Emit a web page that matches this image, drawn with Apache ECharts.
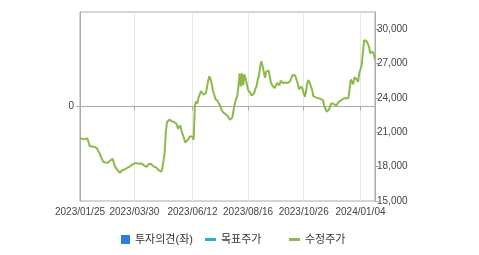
<!DOCTYPE html>
<html>
<head>
<meta charset="utf-8">
<script src="https://cdn.jsdelivr.net/npm/echarts@6/dist/echarts.min.js"></script>
<style>
html,body{margin:0;padding:0;background:#fff;}
#c{width:479px;height:255px;}
</style>
</head>
<body>
<div id="c"></div>
<script>
// Trading-day categories: weekdays from the start date, skipping KRX holidays
const startDate = '2023-01-25';
const holidays = ['2023-03-01','2023-05-01','2023-05-05','2023-05-29','2023-06-06','2023-08-15',
  '2023-09-28','2023-09-29','2023-10-02','2023-10-03','2023-10-09','2023-12-25','2023-12-29','2024-01-01'];
const tickLabels = ['2023/01/25','2023/03/30','2023/06/12','2023/08/16','2023/10/26','2024/01/04'];
const rightTicks = [15000,18000,21000,24000,27000,30000];
const seriesNames = ['투자의견(좌)','목표주가','수정주가'];
const opinion = [];
const targetPrice = [];
const adjPrice = [
  20500,20480,20420,20350,20400,20520,20480,20150,19800,19700,
  19750,19680,19720,19700,19600,19400,19200,18950,18700,18450,
  18300,18350,18300,18330,18450,18550,18650,18680,18300,18000,
  17900,17700,17550,17450,17600,17700,17800,17750,17850,17900,
  17950,18000,18100,18150,18250,18300,18250,18300,18280,18250,
  18300,18280,18200,18100,18000,17980,18100,18250,18350,18200,
  18100,18000,17950,17930,17850,17700,17600,17550,17750,17850,
  19200,21000,21900,22050,22100,22000,21950,21850,21900,21800,
  21700,21300,21250,21600,21100,20800,20500,20100,19950,20300,
  20450,20650,20780,20600,20350,23300,23700,23500,24000,24300,
  24600,24700,24300,24200,24400,24900,25500,25900,25600,25200,
  24600,24300,23900,23800,23700,23550,23300,23000,22800,22700,
  22600,22500,22450,22300,22100,21950,22300,22900,23500,23900,
  24100,25000,26150,25000,26150,25100,26050,25700,25200,24700,
  24600,24400,24200,24100,24400,24800,25000,25600,25900,26700,
  27200,26800,26700,25750,26300,26350,26400,26450,25300,25100,
  24950,24850,25000,25300,25400,25100,25500,25570,25300,25130,
  25350,25200,25300,25250,25500,25800,26000,26050,25950,26000,
  25300,24750,24900,25000,24800,24400,24100,24600,25300,25550,
  25300,25130,24700,24150,24100,24050,24000,23980,23950,23900,
  23850,23800,23300,23100,22800,22650,23000,23300,23550,23500,
  23450,23400,23350,23500,23650,23700,23800,23850,23950,23950,
  23980,24000,23980,24800,25600,25700,25200,25800,25900,25600,
  25400,26150,26500,26900,27000,29050,28900,28950,28750,28500,
  27900,27750,28050,27800,27350
];

const categories = [];
(function(){
  const p = startDate.split('-').map(Number);
  let t = Date.UTC(p[0], p[1]-1, p[2]);
  while (categories.length < adjPrice.length) {
    const d = new Date(t);
    const dow = d.getUTCDay();
    const y = d.getUTCFullYear(), m = String(d.getUTCMonth()+1).padStart(2,'0'), dd = String(d.getUTCDate()).padStart(2,'0');
    if (dow !== 0 && dow !== 6 && holidays.indexOf(y+'-'+m+'-'+dd) < 0) categories.push(y+'/'+m+'/'+dd);
    t += 86400000;
  }
})();

const FONT = 'Liberation Sans, Noto Sans CJK KR, sans-serif';
const isTick = (idx, val) => tickLabels.indexOf(val) >= 0;
const chart = echarts.init(document.getElementById('c'), null, {renderer:'canvas'});
chart.setOption({
  animation: false,
  backgroundColor: '#fff',
  grid: {left: 80, right: 104, top: 12, bottom: 54, show: true, borderColor: '#aaaaaa', borderWidth: 1, backgroundColor: 'transparent'},
  legend: [
    {data:[seriesNames[0]], left: 116, top: 229, icon:'rect', itemWidth: 9, itemHeight: 9, selectedMode:false,
     textStyle:{fontSize: 11, color:'#333', fontFamily: FONT}},
    {data:[seriesNames[1]], left: 200, top: 229, icon:'rect', itemWidth: 11, itemHeight: 3, selectedMode:false,
     textStyle:{fontSize: 11, color:'#333', fontFamily: FONT}},
    {data:[seriesNames[2]], left: 284, top: 229, icon:'rect', itemWidth: 11, itemHeight: 3, selectedMode:false,
     textStyle:{fontSize: 11, color:'#333', fontFamily: FONT}}
  ],
  xAxis: {
    type: 'category', data: categories, boundaryGap: false,
    axisLine: {lineStyle: {color: '#aaaaaa'}},
    axisTick: {show: true, interval: isTick, length: 4, lineStyle: {color: '#aaaaaa'}},
    axisLabel: {interval: isTick, color: '#444', fontSize: 10, fontFamily: FONT, margin: 6},
    splitLine: {show: true, interval: isTick, lineStyle: {color: '#e6e6e6'}}
  },
  yAxis: [
    {type: 'value', position: 'left', min: -1, max: 1, interval: 1,
     axisLine: {show: true, lineStyle: {color: '#aaaaaa'}},
     axisTick: {show: true, length: 4, customValues: [0], lineStyle: {color: '#aaaaaa'}},
     axisLabel: {customValues: [0], color: '#444', fontSize: 10, fontFamily: FONT, margin: 6},
     splitLine: {show: true, lineStyle: {color: '#e6e6e6'}}},
    {type: 'value', position: 'right', min: 15000, max: 31500, interval: 3000,
     axisLine: {show: true, lineStyle: {color: '#aaaaaa'}},
     axisTick: {show: true, length: 4, customValues: rightTicks, lineStyle: {color: '#aaaaaa'}},
     axisLabel: {customValues: rightTicks, color: '#444', fontSize: 10, fontFamily: FONT, margin: 2,
       formatter: v => v.toLocaleString('en-US')},
     splitLine: {show: false}}
  ],
  series: [
    {name: seriesNames[0], type: 'bar', yAxisIndex: 0, data: opinion, itemStyle: {color: '#2b7be0'}},
    {name: seriesNames[1], type: 'line', yAxisIndex: 1, data: targetPrice, itemStyle: {color: '#1fb3d6'}, lineStyle:{color:'#1fb3d6'}},
    {name: seriesNames[2], type: 'line', yAxisIndex: 1, data: adjPrice, showSymbol: false, symbol: 'none',
     itemStyle: {color: '#8cba4a'}, lineStyle: {color: '#8cba4a', width: 2}}
  ]
});
</script>
</body>
</html>
